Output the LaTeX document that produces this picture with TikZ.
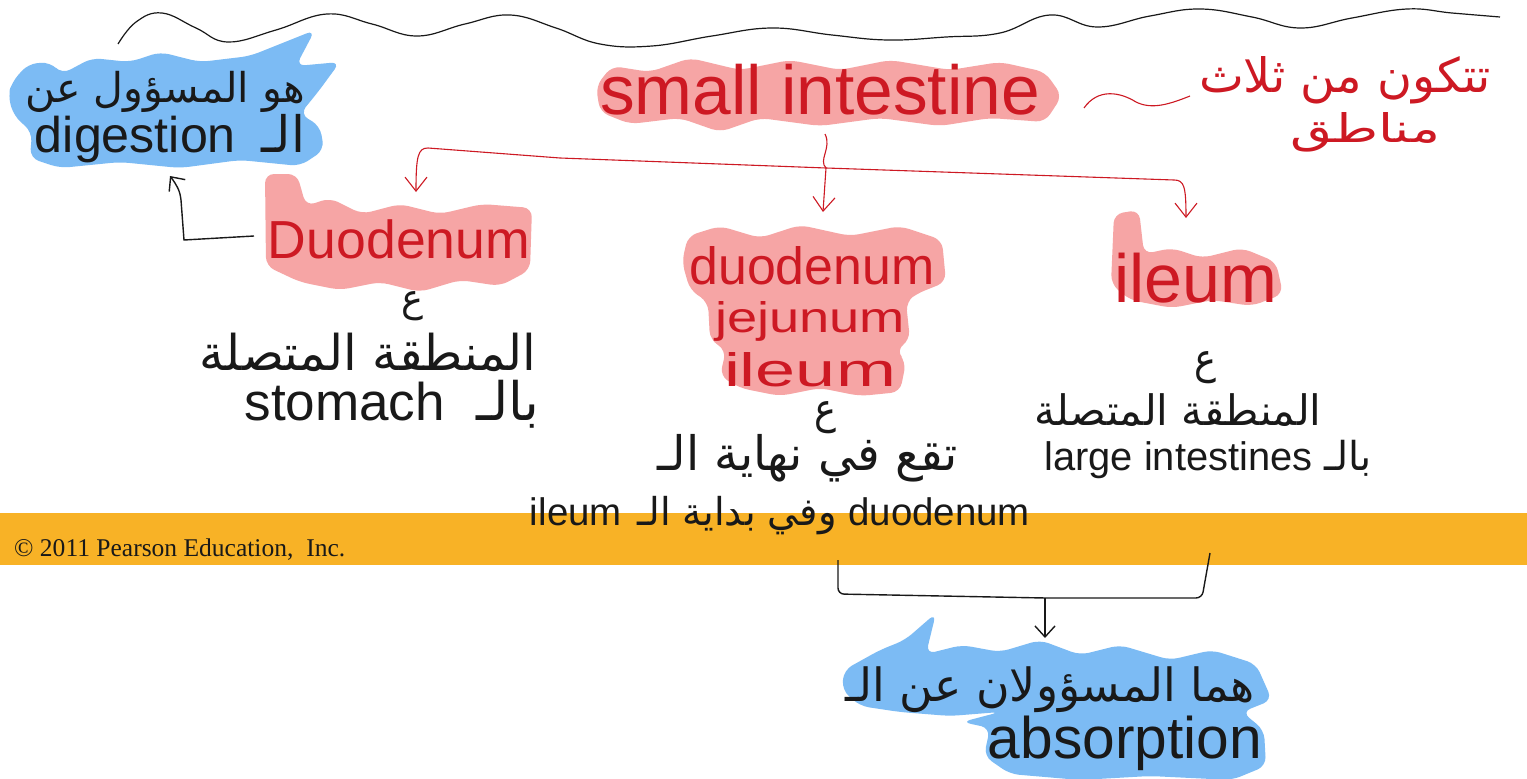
\documentclass[tikz,border=0pt]{standalone}
\usepackage{fontspec}
\usepackage{graphicx}
\setmainfont{Liberation Serif}
\newfontfamily\hand{Liberation Sans}
\newfontfamily\arabicfont[Script=Arabic]{DejaVu Sans}
\TeXXeTstate=1
\usetikzlibrary{arrows.meta}
\definecolor{band}{RGB}{248,178,38}
\definecolor{hlpink}{RGB}{246,165,165}
\definecolor{hlblue}{RGB}{124,187,244}
\definecolor{inkred}{RGB}{205,25,35}
\definecolor{ink}{RGB}{25,25,25}
\newcommand{\fitw}[2]{\resizebox{#1}{!}{#2}}
\newcommand{\fitwh}[3]{\resizebox{#1}{#2}{#3}}
\begin{document}
\begin{tikzpicture}[x=1pt,y=-1pt,
  lat/.style={font=\hand\fontsize{40}{40}\selectfont, text=ink, inner sep=0pt, anchor=base},
  ar/.style={font=\arabicfont\fontsize{40}{40}\selectfont, text=ink, inner sep=0pt},
  redtxt/.style={text=inkred},
  pinkblob/.style={fill=hlpink, rounded corners=9pt},
  blueblob/.style={fill=hlblue, rounded corners=9pt},
  redlink/.style={draw=inkred, line width=1.1pt, -{Straight Barb[length=14pt,width=22pt,line width=1.1pt]}},
  blacklink/.style={draw=ink, line width=1.4pt},
  blackarrow/.style={draw=ink, line width=1.4pt, -{Straight Barb[length=11pt,width=20pt,line width=1.4pt]}},
]
% canvas
\fill[white] (0,0) rectangle (1527,779);
\useasboundingbox (0,0) rectangle (1527,779);
% footer band
\fill[band] (0,513) rectangle (1527,565);
\node[font=\rmfamily, text=ink, inner sep=0pt, anchor=base west] (copy) at (14,556) {\fitw{331pt}{\textcopyright\ 2011 Pearson Education,\ \ Inc.}};

% ---------- highlights ----------
% blue top-left
\fill[blueblob] (12,82) -- (28,64) -- (50,62) -- (62,74) -- (92,58) -- (130,62) -- (160,52) -- (200,62) -- (250,56) -- (315,30) -- (296,66) -- (340,62) -- (318,92) -- (300,114) -- (320,126) -- (324,150) -- (300,166) -- (240,160) -- (180,168) -- (120,162) -- (60,168) -- (30,158) -- (32,132) -- (14,116) -- (8,96) -- cycle;
% pink small intestine
\fill[pinkblob] (596,86) -- (612,66) -- (650,72) -- (690,58) -- (740,70) -- (790,60) -- (840,70) -- (890,60) -- (950,70) -- (1000,62) -- (1045,72) -- (1062,96) -- (1045,122) -- (990,118) -- (940,126) -- (880,118) -- (820,126) -- (760,118) -- (720,132) -- (680,118) -- (630,124) -- (600,112) -- cycle;
% pink Duodenum
\fill[pinkblob] (265,174) -- (297,174) -- (306,206) -- (330,198) -- (362,214) -- (400,204) -- (440,214) -- (482,204) -- (532,208) -- (530,270) -- (500,286) -- (460,280) -- (420,292) -- (380,282) -- (340,290) -- (300,282) -- (266,266) -- cycle;
% pink middle stack
\fill[pinkblob] (688,236) -- (720,226) -- (760,238) -- (800,225) -- (850,236) -- (900,226) -- (942,240) -- (946,282) -- (916,294) -- (906,302) -- (910,340) -- (896,350) -- (906,362) -- (900,392) -- (860,396) -- (820,388) -- (780,396) -- (740,388) -- (720,376) -- (726,350) -- (710,340) -- (708,302) -- (690,290) -- (682,262) -- cycle;
% pink ileum (right)
\fill[pinkblob] (1114,214) -- (1139,210) -- (1144,254) -- (1172,248) -- (1202,258) -- (1242,248) -- (1276,262) -- (1283,294) -- (1252,306) -- (1212,300) -- (1172,308) -- (1130,300) -- (1111,284) -- cycle;
% blue bottom
\fill[blueblob] (844,670) -- (880,650) -- (905,640) -- (936,613) -- (926,654) -- (962,645) -- (1000,652) -- (1040,640) -- (1080,655) -- (1120,645) -- (1170,660) -- (1212,650) -- (1256,664) -- (1272,700) -- (1242,712) -- (1264,730) -- (1266,766) -- (1232,780) -- (1150,776) -- (1080,780) -- (1010,774) -- (984,756) -- (990,728) -- (962,722) -- (1000,712) -- (950,716) -- (900,712) -- (860,706) -- (842,690) -- cycle;

% ---------- top wavy line ----------
\draw[ink, line width=1.2pt] plot[smooth, tension=0.7] coordinates {(118,44) (136,22) (162,13) (196,28) (228,42) (276,30) (327,14) (372,24) (417,36) (465,24) (510,15) (556,28) (600,44) (652,46) (712,36) (772,28) (832,35) (888,40) (946,37) (1000,33) (1050,15) (1097,27) (1150,16) (1200,9) (1252,17) (1300,28) (1352,18) (1407,9) (1452,13) (1500,17)};

% ---------- texts ----------
\node[ar] (dig1) at (165,92) {\fitw{280pt}{\beginR هو المسؤول عن\endR}};
\node[lat] (dig2) at (170,152) {\fitw{270pt}{digestion\hspace{0.5em}{\arabicfont\beginR الـ\endR}}};

\node[lat, redtxt] (si) at (820,114) {\fitw{440pt}{small intestine}};
\node[ar, redtxt] (tr1) at (1345,80) {\fitwh{292pt}{36pt}{\beginR تتكون من ثلاث\endR}};
\node[ar, redtxt] (tr2) at (1365,132) {\fitwh{150pt}{30pt}{\beginR مناطق\endR}};

\node[lat, redtxt] (duo) at (399,258) {\fitw{262pt}{Duodenum}};
\node[ar] (e1) at (412,306) {\fitwh{22pt}{20pt}{\beginR ع\endR}};
\node[ar] (duoA) at (368,352) {\fitw{337pt}{\beginR المنطقة المتصلة\endR}};
\node[lat] (duoB) at (392,420) {\fitw{295pt}{stomach\hspace{0.6em}{\arabicfont\beginR بالـ\endR}}};

\node[lat, redtxt] (m1) at (812,284) {\fitwh{245pt}{38pt}{duodenum}};
\node[lat, redtxt] (m2) at (810,332) {\fitwh{190pt}{31pt}{jejunum}};
\node[lat, redtxt] (m3) at (810,386) {\fitwh{172pt}{34pt}{ileum}};
\node[ar] (e2) at (825,418) {\fitwh{22pt}{22pt}{\beginR ع\endR}};
\node[ar] (mA) at (808,458) {\fitw{300pt}{\beginR تقع في نهاية الـ\endR}};
\node[lat] (mB) at (780,525) {\fitw{500pt}{ileum\hspace{0.4em}{\arabicfont\beginR وفي بداية الـ\endR}\hspace{0.3em}duodenum}};

\node[lat, redtxt] (il) at (1196,302) {\fitw{163pt}{ileum}};
\node[ar] (e3) at (1205,368) {\fitwh{22pt}{22pt}{\beginR ع\endR}};
\node[ar] (ilA) at (1178,410) {\fitw{287pt}{\beginR المنطقة المتصلة\endR}};
\node[lat] (ilB) at (1208,470) {\fitw{327pt}{large intestines\hspace{0.3em}{\arabicfont\beginR بالـ\endR}}};

\node[ar] (ab1) at (1050,690) {\fitw{410pt}{\beginR هما المسؤولان عن الـ\endR}};
\node[lat] (ab2) at (1125,758) {\fitw{274pt}{absorption}};

% ---------- connectors ----------
\coordinate (siB) at (825,134);
\coordinate (jn) at (826,168);
\coordinate (duoT) at (416,192);
\coordinate (midT) at (823,212);
\coordinate (ilT) at (1186,218);
\draw[redlink] (siB) .. controls (832,148) and (818,160) .. (jn) -- (midT);
\draw[redlink] (jn) -- (560,158) -- (428,148) .. controls (418,148) and (416,156) .. (duoT);
\draw[redlink] (jn) -- (1174,180) .. controls (1184,180) and (1186,186) .. (ilT);

% tilde between small intestine and the red note
\coordinate (tlA) at (1084,108);
\coordinate (tlB) at (1190,96);
\draw[inkred, line width=1.1pt] (tlA) .. controls (1098,88) and (1120,92) .. (1136,102) .. controls (1152,110) and (1170,104) .. (tlB);

% Duodenum -> digestion
\coordinate (duoW) at (254,236);
\coordinate (digB) at (170,176);
\draw[blackarrow] (duoW) -- (184,240) -- (181,200) .. controls (180,190) and (176,184) .. (digB);

% bottom bracket -> absorption
\coordinate (brL) at (838,560);
\coordinate (brR) at (1210,553);
\coordinate (brM) at (1045,598);
\coordinate (abT) at (1045,638);
\draw[blacklink, rounded corners=6pt] (brL) -- (838,594) -- (1045,598) -- (1202,598) -- (brR);
\draw[blackarrow] (brM) -- (abT);
\end{tikzpicture}
\end{document}
